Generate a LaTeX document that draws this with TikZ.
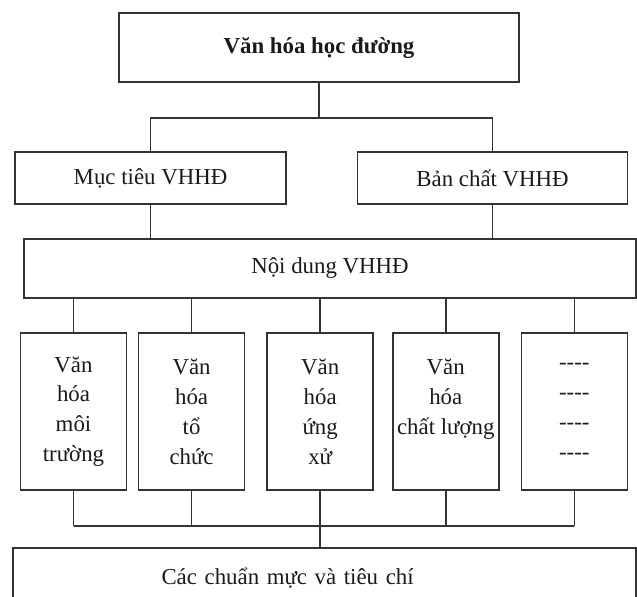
\documentclass[tikz,border=0pt]{standalone}
\usepackage{fontspec}
\setmainfont{Liberation Serif}
\usepackage{tikz}
\usetikzlibrary{positioning}
\definecolor{linegray}{HTML}{333333}
\definecolor{textgray}{HTML}{1A1A1A}
\tikzset{
    box/.style={
        rectangle, draw=linegray, line width=0.9pt,
        align=center, text=textgray, inner sep=1pt,
        font=\fontsize{13pt}{17pt}\selectfont
    },
    col box/.style={
        box, minimum width=2.12cm, minimum height=3.14cm
    },
    link/.style={
        draw=linegray, line width=0.9pt
    },
}

\begin{document}
\begin{tikzpicture}
    \useasboundingbox (0,0) rectangle (12.74,-11.92);

    \node[box, font=\fontsize{13pt}{17pt}\selectfont\bfseries, minimum width=8cm, minimum height=1.38cm] (vhhd) at (6.38,-0.95) {Văn hóa học đường};
    \node[box, minimum width=5.42cm, minimum height=1.04cm] (muctieu) at (3.01,-3.56) {Mục tiêu VHHĐ};
    \node[box, minimum width=5.40cm, minimum height=1.04cm, right=1.4cm of muctieu] (banchat) {Bản chất VHHĐ};
    \node[box, minimum width=12.24cm, minimum height=1.18cm] (noidung) at (6.60,-5.37) {Nội dung VHHĐ};

    % content columns
    \node[col box] (c1) at (1.47,-8.23) {Văn\\hóa\\môi\\trường};
    \node[col box, right=0.21cm of c1] (c2) {Văn\\hóa\\tổ\\chức};
    \node[col box, right=0.42cm of c2] (c3) {Văn\\hóa\\ứng\\xử};
    \node[col box, right=0.36cm of c3] (c4) {Văn\\hóa\\chất lượng\\\phantom{V}};
    \node[col box, right=0.42cm of c4] (c5) {-{}-{}-{}-\\-{}-{}-{}-\\-{}-{}-{}-\\-{}-{}-{}-};

    \node[box, minimum width=12.46cm, minimum height=1.2cm, text width=12.2cm, align=left] (chuan) at (6.49,-11.56) {\hspace*{2.84cm}Các chuẩn mực và tiêu chí};

    % top split
    \draw[link] (vhhd.south) -- ++(0,-0.7) coordinate (split);
    \draw[link] (muctieu.north) |- (split) -| (banchat.north);
    \draw[link] (muctieu.south) -- (muctieu.south |- noidung.north);
    \draw[link] (banchat.south) -- (banchat.south |- noidung.north);

    % columns in and out
    \coordinate (join) at ([yshift=-0.7cm]c3.south);
    \foreach \c in {c1,c2,c3,c4,c5} {
        \draw[link] (\c.north |- noidung.south) -- (\c.north);
        \draw[link] (\c.south) -- (\c.south |- join);
    }
    \draw[link] (c1.south |- join) -- (c5.south |- join);
    \draw[link] (join) -- (join |- chuan.north);
\end{tikzpicture}
\end{document}
